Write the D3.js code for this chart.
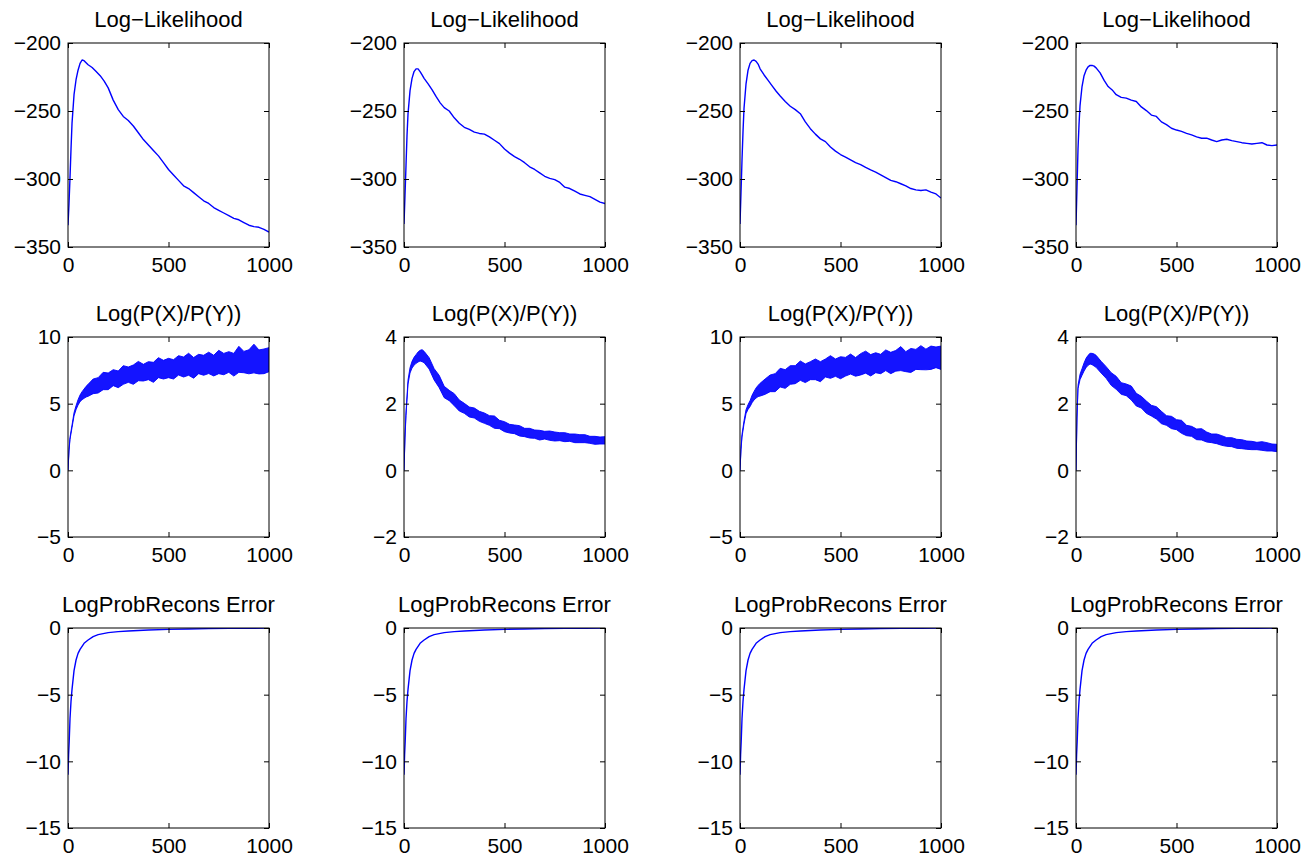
<!DOCTYPE html>
<meta charset="utf-8">
<style>
body { margin: 0; background: #fff; }
text { font-family: "Liberation Sans", Arial, Helvetica, sans-serif; fill: #000; }
.frame { fill: none; stroke: #000; stroke-width: 1px; }
.tick line { stroke: #000; }
.curve { fill: none; stroke: #0000ff; stroke-width: 1.4px; stroke-linejoin: round; }
.band { fill: #0000ff; fill-opacity: 0.92; stroke: #0000ff; stroke-width: 0.9px; stroke-linejoin: round; }
</style>
<body>
<script src="https://d3js.org/d3.v7.min.js"></script>
<script>

// ---- data ----

var titles = ["Log\u2212Likelihood", "Log(P(X)/P(Y))", "LogProbRecons Error"];
var xTicks = [0, 500, 1000];

// row 1: log-likelihood, iterations
var llX = [0,5,10,15,20,30,40,50,60,70,80,90,100,120,140,160,180,200,225,250,275,300,325,350,375,400,425,450,475,500,525,550,575,600,625,650,675,700,725,750,775,800,825,850,875,900,925,950,975,1000];
var ll1 = [-334,-318,-299,-278,-259,-238,-227,-220,-215,-212.5,-213,-214.5,-216,-218,-221,-224,-228,-233,-242,-249,-254,-257,-261,-266,-271,-275,-279,-283,-288,-293,-297,-301,-305,-307,-310,-313,-316,-318,-321,-323,-325,-327,-329,-330,-332,-334,-335,-335.5,-337,-339];
var ll2 = [-333,-312,-290,-268,-252,-235,-226,-221,-219,-219,-221,-223.5,-226,-230,-234.5,-239.5,-244,-247.5,-250,-255,-259,-262,-263.5,-265.5,-266.5,-267,-269,-271.5,-274,-278,-281,-283.5,-285.5,-288,-291,-293,-295.5,-298,-299.5,-300.5,-302.5,-306,-307,-309,-311,-312,-313,-315,-317,-318];
var ll3 = [-333,-310,-286,-265,-248,-230,-220,-215,-213,-212.5,-213.5,-215.5,-219,-223.5,-227.5,-231.5,-235.5,-239,-243,-246.5,-249,-252,-258,-263,-267,-270.5,-272.5,-276.5,-279.5,-282,-284,-286,-288,-289.5,-291.5,-293.3,-295,-297,-299,-301,-302,-303.5,-305,-307,-308,-308.5,-308,-309.6,-311,-314];
var ll4 = [-334,-306,-278,-260,-246,-232,-224,-220,-217.5,-216.5,-216.5,-217,-218.3,-222,-227.5,-232,-234.5,-238,-240,-240.5,-242,-243,-247,-249.7,-253,-254,-258,-260,-262.7,-264,-265,-266.4,-267.6,-269,-270,-270,-271.3,-272.5,-271.3,-270.8,-271.8,-272.5,-273.3,-273.8,-274.3,-273.8,-273.3,-275,-275.5,-275];
var llTicks = [-350, -300, -250, -200];

// row 2: log(P(X)/P(Y)), noisy -> upper and lower edge of the band
var prX = [0,5,10,20,30,40,50,60,70,80,90,100,125,150,175,200,225,250,275,300,325,350,375,400,425,450,475,500,525,550,575,600,625,650,675,700,725,750,775,800,825,850,875,900,925,950,975,1000];
var pr1Hi = [0,1.55,2.48,3.4,4.32,4.85,5.3,5.65,5.9,6.1,6.3,6.45,6.85,6.95,7.35,7.3,7.55,7.45,7.85,7.75,7.9,8.17,7.95,8.15,8.1,8.45,8.25,8.4,8.3,8.6,8.5,8.78,8.46,8.7,8.63,8.86,8.63,9.0,8.77,8.9,8.77,9.3,8.92,9.04,9.46,9.03,9.1,9.2];
var pr1Lo = [0,1.45,2.32,3.2,4.08,4.55,4.9,5.15,5.3,5.4,5.5,5.55,5.75,5.8,6.05,6.05,6.35,6.2,6.45,6.6,6.45,6.72,6.7,6.8,6.6,6.95,6.85,6.95,6.85,7.15,7.0,7.13,6.91,7.25,7.13,7.26,7.08,7.25,7.17,7.35,7.07,7.35,7.32,7.24,7.31,7.23,7.25,7.4];
var pr2Hi = [0,1.03,1.75,2.71,3.08,3.27,3.39,3.47,3.55,3.6,3.62,3.57,3.38,3.05,2.85,2.52,2.4,2.3,2.11,2.01,1.9,1.87,1.77,1.72,1.64,1.63,1.5,1.46,1.38,1.36,1.34,1.26,1.26,1.21,1.2,1.17,1.18,1.15,1.13,1.13,1.09,1.09,1.07,1.07,1.02,1.02,1.0,1.01];
var pr2Lo = [0,0.97,1.65,2.59,2.92,3.07,3.15,3.21,3.25,3.28,3.26,3.23,3.04,2.71,2.48,2.18,2.09,1.94,1.78,1.71,1.6,1.57,1.47,1.41,1.35,1.26,1.25,1.16,1.12,1.1,1.03,1.01,0.97,0.96,0.91,0.94,0.9,0.88,0.89,0.86,0.87,0.83,0.83,0.83,0.81,0.78,0.79,0.79];
var pr3Hi = [0,1.66,2.7,3.72,4.55,4.93,5.22,5.63,5.92,6.18,6.37,6.53,6.85,7.15,7.25,7.65,7.55,7.85,7.85,8.2,7.98,8.15,8.35,8.15,8.35,8.6,8.35,8.52,8.47,8.72,8.46,8.75,8.94,8.68,8.82,8.7,9.03,8.85,8.99,9.28,8.9,9.14,9.07,9.35,9.09,9.32,9.25,9.32];
var pr3Lo = [0,1.54,2.5,3.48,4.25,4.57,4.78,5.07,5.28,5.42,5.53,5.57,5.7,5.9,5.9,6.25,6.15,6.45,6.5,6.75,6.58,6.8,6.8,6.65,7.0,6.9,7.05,6.87,7.07,7.22,7.06,7.15,7.29,7.08,7.32,7.25,7.48,7.25,7.44,7.48,7.4,7.34,7.57,7.55,7.54,7.57,7.7,7.57];
var pr4Hi = [0,1.63,2.55,2.88,3.05,3.22,3.36,3.45,3.51,3.51,3.49,3.45,3.27,3.11,2.93,2.82,2.63,2.59,2.53,2.31,2.22,2.08,1.95,1.91,1.77,1.64,1.62,1.52,1.5,1.35,1.32,1.24,1.25,1.15,1.09,1.09,1.04,0.98,0.98,0.93,0.92,0.88,0.87,0.84,0.86,0.83,0.79,0.78];
var pr4Lo = [0,1.57,2.45,2.72,2.85,2.98,3.08,3.15,3.19,3.17,3.13,3.09,2.92,2.76,2.55,2.43,2.28,2.24,2.11,1.93,1.87,1.71,1.63,1.54,1.4,1.35,1.25,1.22,1.11,1.04,1.02,0.92,0.91,0.85,0.83,0.8,0.75,0.72,0.71,0.66,0.65,0.63,0.62,0.62,0.6,0.58,0.58,0.56];
var prTicksWide = [-5, 0, 5, 10];
var prTicksNarrow = [-2, 0, 2, 4];

// row 3: reconstruction error (same shape in all four panels)
var reX = [0,3,6,10,15,20,30,40,50,60,80,100,125,150,200,250,300,400,500,600,700,800,900,1000];
var re1 = [-11,-9.5,-8.5,-6.8,-5.5,-4.6,-3.2,-2.4,-1.9,-1.6,-1.15,-0.9,-0.65,-0.5,-0.35,-0.27,-0.22,-0.15,-0.1,-0.07,-0.05,-0.03,-0.02,-0.01];
var reTicks = [-15, -10, -5, 0];

// ---- layout ----
var width = 1309, height = 861;
var colLeft = [68, 404, 740, 1076], plotW = 201;
var rowTop = [43, 337, 628], rowH = [204, 200, 200];

var panels = [];
[ll1, ll2, ll3, ll4].forEach(function(v, c) {
  panels.push({row: 0, col: c, kind: "line", xs: llX, ys: v, domain: [-350, -200], ticks: llTicks});
});
[[pr1Hi, pr1Lo], [pr2Hi, pr2Lo], [pr3Hi, pr3Lo], [pr4Hi, pr4Lo]].forEach(function(v, c) {
  var wide = (c % 2 == 0);
  panels.push({row: 1, col: c, kind: "band", xs: prX, hi: v[0], lo: v[1],
    domain: wide ? [-5, 10] : [-2, 4], ticks: wide ? prTicksWide : prTicksNarrow});
});
[0, 1, 2, 3].forEach(function(c) {
  panels.push({row: 2, col: c, kind: "line", xs: reX, ys: re1, domain: [-15, 0], ticks: reTicks});
});

var svg = d3.select("body").append("svg")
    .attr("width", width)
    .attr("height", height);

var fmt = d3.format("d");

panels.forEach(function(p, i) {
  var w = plotW, h = rowH[p.row];
  var g = svg.append("g")
      .attr("transform", "translate(" + colLeft[p.col] + "," + rowTop[p.row] + ")");

  var x = d3.scaleLinear().domain([0, 1000]).range([0, w]);
  var y = d3.scaleLinear().domain(p.domain).range([h, 0]);

  g.append("clipPath").attr("id", "clip" + i)
    .append("rect").attr("width", w).attr("height", h);

  var plot = g.append("g").attr("clip-path", "url(#clip" + i + ")");

  if (p.kind == "line") {
    var line = d3.line()
        .x(function(d, j) { return x(p.xs[j]); })
        .y(function(d) { return y(d); });
    plot.append("path").attr("class", "curve").attr("d", line(p.ys));
  } else {
    var area = d3.area()
        .x(function(d, j) { return x(p.xs[j]); })
        .y0(function(d, j) { return y(p.lo[j]); })
        .y1(function(d) { return y(d); });
    plot.append("path").attr("class", "band").attr("d", area(p.hi));
  }

  // axes, ticks pointing inward on all four sides
  var left = g.append("g").call(d3.axisLeft(y).tickValues(p.ticks).tickSize(-5).tickPadding(7).tickFormat(fmt));
  var right = g.append("g").attr("transform", "translate(" + w + ",0)")
      .call(d3.axisRight(y).tickValues(p.ticks).tickSize(-5).tickFormat(""));
  var bottom = g.append("g").attr("transform", "translate(0," + h + ")")
      .call(d3.axisBottom(x).tickValues(xTicks).tickSize(-5).tickPadding(10).tickFormat(fmt));
  var top = g.append("g").call(d3.axisTop(x).tickValues(xTicks).tickSize(-5).tickFormat(""));

  [left, right, bottom, top].forEach(function(a) {
    a.select(".domain").remove();
    a.attr("font-size", 21).attr("font-family", null);
  });

  g.append("rect").attr("class", "frame")
    .attr("x", 0).attr("y", 0).attr("width", w).attr("height", h);

  g.append("text")
    .attr("x", w / 2)
    .attr("y", -16)
    .attr("text-anchor", "middle")
    .attr("font-size", 22)
    .text(titles[p.row]);
});

</script>
